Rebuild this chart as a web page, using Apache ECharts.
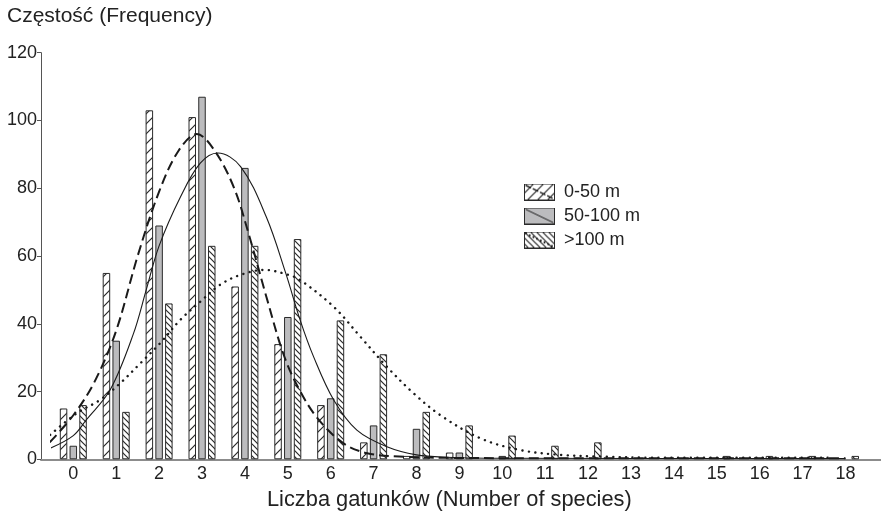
<!DOCTYPE html>
<html>
<head>
<meta charset="utf-8">
<script src="https://cdn.jsdelivr.net/npm/echarts@6/dist/echarts.min.js"></script>
<style>
  html, body { margin: 0; padding: 0; background: #ffffff; }
  #chart { width: 881px; height: 513px; }
</style>
</head>
<body>
<div id="chart"></div>
<script>
// Number of species per sample (0..18)
const categories = ['0','1','2','3','4','5','6','7','8','9','10','11','12','13','14','15','16','17','18'];

// Frequencies by altitude band
const freq0to50   = [15, 55, 103, 101, 51, 34, 16, 5, 1, 2, 0, 0, 0, 0, 0, 0, 0, 0, 0];
const freq50to100 = [4, 35, 69, 107, 86, 42, 18, 10, 9, 2, 1, 0, 0, 0, 0, 0, 0, 0, 0];
const freqOver100 = [16, 14, 46, 63, 63, 65, 41, 31, 14, 10, 7, 4, 5, 0, 0, 1, 1, 1, 1];

// Fitted curves: [number of species, frequency]
const curve0to50 = [[-0.55,5],[0,13],[0.5,23],[1.0,38],[1.5,60],[2.0,79],[2.45,91],[2.88,96],[3.3,91],
  [3.75,80],[4.1,66],[4.5,48],[4.9,31],[5.25,21],[5.7,12],[6.3,4.7],[6.85,1.8],[7.6,0.8],[9,0.4],[12,0.3],[18,0.3]];
const curve50to100 = [[-0.55,3.2],[0,7],[0.3,11.6],[0.86,20.5],[1.4,37],[1.7,50],[2.0,63],[2.5,77.5],[2.96,87.4],
  [3.37,90.4],[3.9,86.4],[4.5,71.5],[4.95,55],[5.29,41],[5.6,30.3],[6.07,17.5],[6.61,8.6],[7.31,3.7],[8.0,1.3],
  [8.7,0.6],[10,0.3],[18,0.2]];
const curveOver100 = [[-0.54,7.2],[0.08,13.6],[0.62,17.5],[1.09,22.4],[1.56,28.3],[2.02,34.2],[2.49,41.1],[2.96,46.5],
  [3.42,51.5],[3.89,54.4],[4.45,55.9],[5.0,54.5],[5.29,52.9],[6.07,45],[6.69,36.2],[7.31,27.3],[7.93,19.5],
  [8.56,13],[9.49,6.2],[10.43,2.7],[11.36,1.3],[12.29,0.8],[13.5,0.5],[17.7,0.5]];

const yTicks = [0, 20, 40, 60, 80, 100, 120];
const seriesNames = ['0-50 m', '50-100 m', '>100 m'];

const INK = '#222222';
const GREY = '#bcbcbe';
const FONT = '"Liberation Sans", Arial, sans-serif';

// Small repeating tiles for the hatched fills
function hatchTile(size, dir, bg) {
  const c = document.createElement('canvas');
  c.width = size; c.height = size;
  const g = c.getContext('2d');
  g.fillStyle = bg; g.fillRect(0, 0, size, size);
  g.strokeStyle = '#2a2a2a'; g.lineWidth = 1.2;
  g.beginPath();
  if (dir === '/') {
    g.moveTo(-1, size + 1); g.lineTo(size + 1, -1);
    g.moveTo(-1, 1); g.lineTo(1, -1);
    g.moveTo(size - 1, size + 1); g.lineTo(size + 1, size - 1);
  } else {
    g.moveTo(-1, -1); g.lineTo(size + 1, size + 1);
    g.moveTo(size - 1, -1); g.lineTo(size + 1, 1);
    g.moveTo(-1, size - 1); g.lineTo(1, size + 1);
  }
  g.stroke();
  return c;
}

const tileFwd = hatchTile(10, '/', '#ffffff');
const tileBack = hatchTile(6, '\\', '#ffffff');

// Legend swatch: fill + the matching curve style drawn across it
function legendIcon(fill, dash, lw) {
  const w = 31, h = 17;
  const c = document.createElement('canvas');
  c.width = w; c.height = h;
  const g = c.getContext('2d');
  g.fillStyle = (fill instanceof HTMLCanvasElement) ? g.createPattern(fill, 'repeat') : fill;
  g.fillRect(0, 0, w, h);
  g.strokeStyle = '#1a1a1a'; g.lineWidth = lw; g.lineCap = 'round';
  g.setLineDash(dash);
  g.beginPath(); g.moveTo(2, 2); g.lineTo(w - 2, h - 2); g.stroke();
  g.setLineDash([]);
  g.lineWidth = 1; g.strokeStyle = '#2a2a2a';
  g.strokeRect(0.5, 0.5, w - 1, h - 1);
  return 'image://' + c.toDataURL();
}

const asBar = arr => arr.map(v => (v === 0 ? '-' : v));

const barBase = {
  type: 'bar', xAxisIndex: 0, yAxisIndex: 0,
  barWidth: 7.5, barGap: '30%',
  emphasis: { disabled: true }
};

const chart = echarts.init(document.getElementById('chart'));
chart.setOption({
  animation: false,
  backgroundColor: '#ffffff',
  title: [
    { text: 'Częstość (Frequency)', left: 7, top: 6, padding: 0,
      textStyle: { fontFamily: FONT, fontSize: 21, fontWeight: 'normal', color: INK } },
    { text: 'Liczba gatunków (Number of species)', left: 267, top: 489, padding: 0,
      textStyle: { fontFamily: FONT, fontSize: 21.8, fontWeight: 'normal', color: INK } }
  ],
  legend: {
    orient: 'vertical', left: 524, top: 183, padding: 0,
    itemWidth: 31, itemHeight: 17, itemGap: 6,
    selectedMode: false,
    textStyle: { fontFamily: FONT, fontSize: 18, color: INK, padding: [0, 0, 0, 4] },
    data: [
      { name: seriesNames[0], icon: legendIcon(tileFwd, [5, 3], 1.4) },
      { name: seriesNames[1], icon: legendIcon(GREY, [], 1) },
      { name: seriesNames[2], icon: legendIcon(tileBack, [0.1, 4], 2) }
    ]
  },
  grid: [
    // category band for bars and curves
    { left: 51.85, right: 14.05, top: 52.7, bottom: 53.7 },
    // full-width frame carrying the visible axes
    { left: 41, right: 0, top: 52.7, bottom: 53.7 }
  ],
  xAxis: [
    { type: 'category', gridIndex: 0, data: categories, boundaryGap: true,
      axisLine: { show: false }, axisTick: { show: false },
      axisLabel: { fontFamily: FONT, fontSize: 18, color: INK, margin: 6, interval: 0 } },
    { type: 'value', gridIndex: 0, min: -0.5, max: 18.5, show: false },
    { type: 'value', gridIndex: 1, min: 0, max: 1,
      axisLine: { show: true, lineStyle: { color: '#8c8c8c', width: 2 } },
      axisTick: { show: false }, axisLabel: { show: false }, splitLine: { show: false } }
  ],
  yAxis: [
    { type: 'value', gridIndex: 0, min: 0, max: 120, show: false },
    { type: 'value', gridIndex: 1, min: 0, max: 120, interval: 20,
      axisLine: { show: true, lineStyle: { color: '#555555', width: 1 } },
      axisTick: { show: true, length: 4, lineStyle: { color: '#555555' } },
      axisLabel: { fontFamily: FONT, fontSize: 18, color: INK, margin: 4,
        customValues: yTicks },
      splitLine: { show: false } }
  ],
  series: [
    Object.assign({}, barBase, { name: seriesNames[0], data: asBar(freq0to50),
      itemStyle: { color: { image: tileFwd, repeat: 'repeat' }, borderColor: '#2a2a2a', borderWidth: 1 } }),
    Object.assign({}, barBase, { name: seriesNames[1], data: asBar(freq50to100),
      itemStyle: { color: GREY, borderColor: '#2a2a2a', borderWidth: 1 } }),
    Object.assign({}, barBase, { name: seriesNames[2], data: asBar(freqOver100),
      itemStyle: { color: { image: tileBack, repeat: 'repeat' }, borderColor: '#2a2a2a', borderWidth: 1 } }),
    { type: 'line', name: 'fit 0-50 m', xAxisIndex: 1, yAxisIndex: 0, data: curve0to50,
      smooth: 0.35, showSymbol: false, clip: false, silent: true, z: 5,
      lineStyle: { color: '#1a1a1a', width: 2, type: [10, 5] } },
    { type: 'line', name: 'fit 50-100 m', xAxisIndex: 1, yAxisIndex: 0, data: curve50to100,
      smooth: 0.35, showSymbol: false, clip: false, silent: true, z: 5,
      lineStyle: { color: '#1a1a1a', width: 1.1, type: 'solid' } },
    { type: 'line', name: 'fit >100 m', xAxisIndex: 1, yAxisIndex: 0, data: curveOver100,
      smooth: 0.35, showSymbol: false, clip: false, silent: true, z: 5,
      lineStyle: { color: '#1a1a1a', width: 2.4, type: [0.1, 6.4], cap: 'round' } }
  ]
});
</script>
</body>
</html>
